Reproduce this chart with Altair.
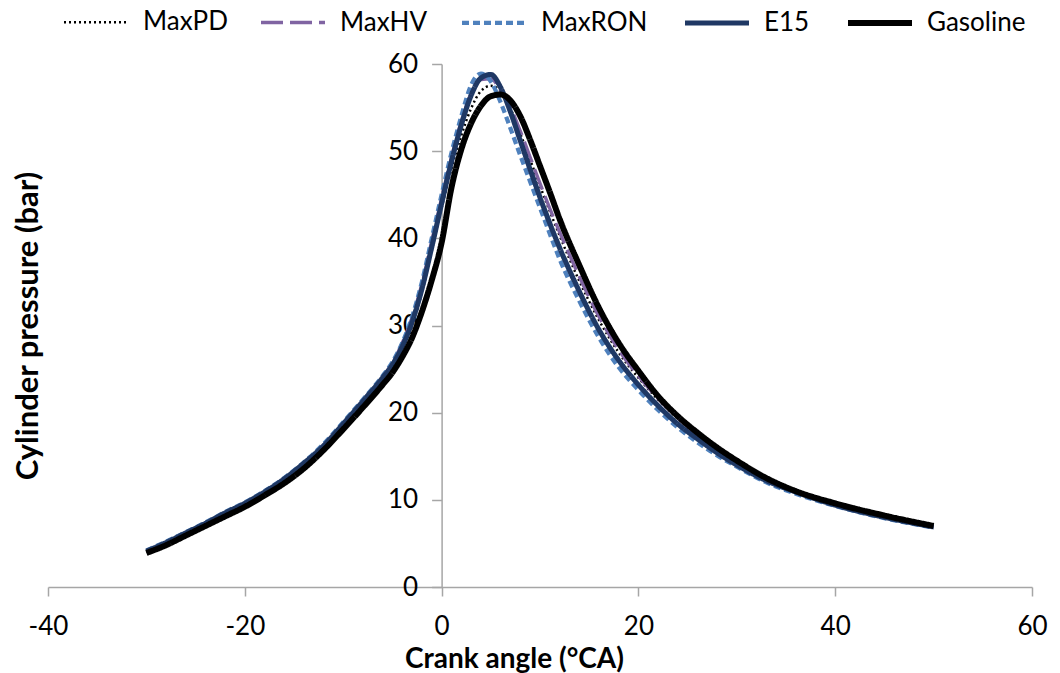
import altair as alt
import pandas as pd

# Crank angle grid (°CA)
crank_angle = [-30, -28, -26, -24, -22, -20, -18, -16, -14, -12, -10, -8, -6, -5,
               -4, -3, -2, -1, 0, 1, 2, 3, 4, 5, 6, 7, 8, 9, 10, 11, 12,
               14, 16, 18, 20, 22, 24, 26, 28, 30, 33, 36, 40, 45, 50]

series_names = ["MaxPD", "MaxHV", "MaxRON", "E15", "Gasoline"]

maxpd = [4.0, 5.0, 6.1, 7.2, 8.4, 9.5, 10.8, 12.3, 14.1, 16.1, 18.6, 21.2, 23.9, 25.4,
         27.3, 30.0, 33.8, 38.6, 43.5, 48.0, 51.8, 54.9, 56.9, 57.5, 56.9, 54.9, 52.0, 49.0, 46.0, 43.1, 40.3,
         35.1, 30.6, 26.9, 24.0, 21.5, 19.3, 17.4, 15.8, 14.3, 12.4, 11.0, 9.5, 8.1, 6.9]
maxhv = [4.1, 5.1, 6.2, 7.3, 8.5, 9.6, 10.9, 12.4, 14.2, 16.3, 18.8, 21.4, 24.1, 25.7,
         28.0, 30.9, 34.8, 39.7, 44.6, 49.3, 53.4, 56.6, 58.2, 58.3, 57.0, 55.0, 52.3, 49.3, 46.3, 43.4, 40.7,
         35.6, 31.0, 27.2, 24.2, 21.6, 19.4, 17.5, 15.9, 14.4, 12.4, 11.0, 9.5, 8.1, 6.9]
maxron = [4.2, 5.2, 6.3, 7.4, 8.6, 9.7, 11.0, 12.5, 14.3, 16.4, 18.9, 21.5, 24.2, 25.8,
          28.0, 31.0, 35.0, 40.0, 45.0, 49.8, 54.0, 57.6, 58.9, 58.0, 55.6, 52.6, 49.5, 46.5, 43.5, 40.5, 37.6,
          32.8, 28.6, 25.2, 22.6, 20.3, 18.3, 16.6, 15.1, 13.8, 12.0, 10.7, 9.3, 7.9, 6.8]
e15 = [4.1, 5.1, 6.2, 7.3, 8.5, 9.6, 10.9, 12.4, 14.2, 16.2, 18.7, 21.3, 24.0, 25.5,
       27.6, 30.4, 34.2, 39.0, 44.0, 48.8, 53.0, 56.4, 58.4, 58.8, 57.3, 54.5, 51.2, 47.9, 44.7, 41.7, 38.9,
       33.9, 29.5, 26.0, 23.2, 20.8, 18.7, 17.0, 15.4, 14.0, 12.2, 10.9, 9.4, 8.0, 6.9]
gasoline = [3.9, 4.8, 5.9, 7.0, 8.1, 9.2, 10.5, 11.9, 13.6, 15.7, 18.1, 20.6, 23.2, 24.6,
            26.4, 28.6, 31.6, 35.2, 39.5, 45.8, 50.2, 53.2, 55.2, 56.3, 56.5, 55.8, 54.0, 51.3, 48.3, 45.3, 42.2,
            36.9, 32.0, 28.0, 24.8, 21.9, 19.6, 17.7, 16.0, 14.5, 12.5, 11.0, 9.6, 8.2, 7.0]

x_ticks = [-40, -20, 0, 20, 40, 60]
y_ticks = [0, 10, 20, 30, 40, 50, 60]

colors = ["#000000", "#8064A2", "#4F81BD", "#1F3864", "#000000"]
dashes = [[2, 3], [22, 7], [7, 4], [1, 0], [1, 0]]
widths = [2.5, 6, 4, 3, 3]

rows = []
for name, vals in zip(series_names, [maxpd, maxhv, maxron, e15, gasoline]):
    for i, (c, p) in enumerate(zip(crank_angle, vals)):
        rows.append({"series": name, "ca": c, "p": p, "idx": i})
df = pd.DataFrame(rows)

FONT = "Lato"
AX = "#A6A6A6"
W, H = 984, 523

legend = alt.Legend(title=None, orient="none", direction="horizontal", columns=5,
                    legendX=13, legendY=-76, symbolType="stroke", symbolSize=4096,
                    labelFont=FONT, labelFontSize=26, labelColor="black",
                    columnPadding=26, labelOffset=12, padding=0)

base = alt.Chart(df).mark_line(interpolate="monotone", strokeCap="butt").encode(
    x=alt.X("ca:Q", scale=alt.Scale(domain=[-40, 60], nice=False),
            axis=alt.Axis(values=x_ticks, title="Crank angle (°CA)", grid=False,
                          labelExpr="'' + datum.value",
                          domainColor=AX, domainWidth=1.5, tickColor=AX, tickWidth=1.5, tickSize=9,
                          labelFont=FONT, labelFontSize=26, labelColor="black", labelPadding=17,
                          labelFlush=False, labelOverlap=False,
                          titleFont=FONT, titleFontSize=28, titleFontWeight="bold", titleColor="black",
                          titleX=466, titleY=72, titleBaseline="middle", titleAlign="center")),
    y=alt.Y("p:Q", scale=alt.Scale(domain=[0, 60], nice=False),
            axis=alt.Axis(values=y_ticks, title="Cylinder pressure (bar)", grid=False, offset=-0.4 * W,
                          labelExpr="'' + datum.value",
                          domainColor=AX, domainWidth=1.5, tickColor=AX, tickWidth=1.5, tickSize=10,
                          labelFont=FONT, labelFontSize=26, labelColor="black", labelPadding=14,
                          labelFlush=False, labelOverlap=False,
                          titleFont=FONT, titleFontSize=31, titleFontWeight="bold", titleColor="black",
                          titleX=-0.4 * W - 20, titleY=H / 2, titleAngle=270,
                          titleBaseline="middle", titleAlign="center")),
    color=alt.Color("series:N", scale=alt.Scale(domain=series_names, range=colors),
                    sort=series_names, legend=legend),
    strokeDash=alt.StrokeDash("series:N", scale=alt.Scale(domain=series_names, range=dashes),
                              sort=series_names, legend=legend),
    strokeWidth=alt.StrokeWidth("series:N", scale=alt.Scale(domain=series_names, range=widths),
                                sort=series_names, legend=legend),
    order="idx:Q",
)

layers = [base.transform_filter(alt.datum.series == n) for n in series_names]

chart = alt.layer(*layers).properties(
    width=W, height=H,
    padding={"left": 48, "top": 64, "right": 28, "bottom": 86},
    autosize=alt.AutoSizeParams(type="none"),
).configure_view(strokeWidth=0)

chart.save("out.html", embed_options={"renderer": "svg", "actions": False})
